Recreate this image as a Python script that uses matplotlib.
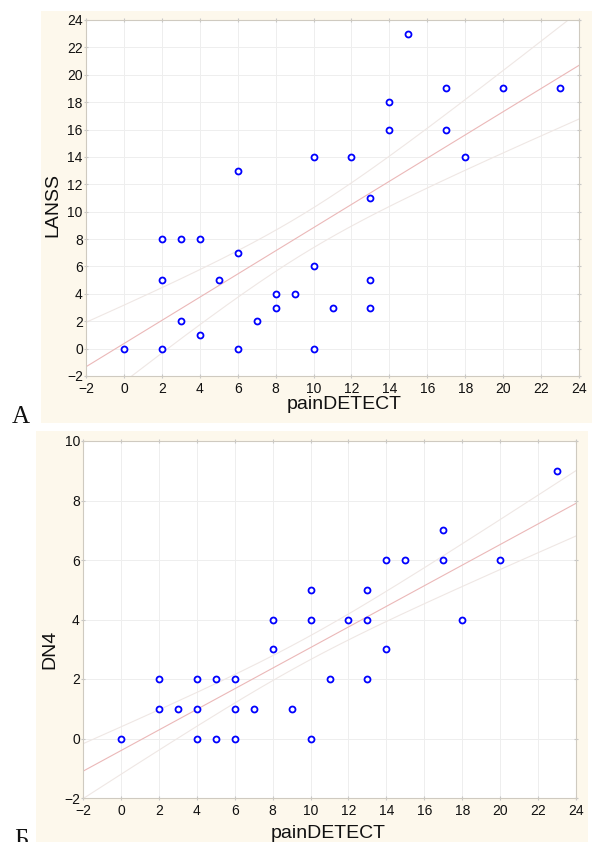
import numpy as np
import matplotlib
matplotlib.use("Agg")
import matplotlib.pyplot as plt
from matplotlib.patches import Rectangle

# ---- data ----
pd_top = [0, 2, 2, 2, 3, 4, 3, 4, 5, 6, 6, 6, 7, 8, 8, 9, 10, 10, 10, 11, 12, 13, 13, 13, 14, 14, 15, 17, 17, 18, 20, 23]
lanss = [0, 0, 5, 8, 8, 8, 2, 1, 5, 7, 13, 0, 2, 3, 4, 4, 14, 6, 0, 3, 14, 11, 5, 3, 18, 16, 23, 19, 16, 14, 19, 19]

pd_bot = [0, 2, 2, 3, 4, 4, 4, 5, 5, 6, 6, 6, 7, 8, 8, 9, 10, 10, 10, 11, 12, 13, 13, 13, 14, 14, 15, 17, 17, 18, 20, 23]
dn4 = [0, 2, 1, 1, 2, 1, 0, 2, 0, 2, 1, 0, 1, 4, 3, 1, 5, 4, 0, 2, 4, 5, 4, 2, 6, 3, 6, 7, 6, 4, 6, 9]

x_ticks = list(range(-2, 25, 2))
y_ticks_top = list(range(-2, 25, 2))
y_ticks_bot = list(range(-2, 11, 2))

cream = "#fdf8ec"

fig = plt.figure(figsize=(5.92, 8.42), dpi=100)
fig.add_artist(Rectangle((41/592, 1-423/842), (592-41)/592, (423-11)/842,
                         transform=fig.transFigure, facecolor=cream, edgecolor="none", zorder=-10))
fig.add_artist(Rectangle((36/592, 0), (588-36)/592, (842-431)/842,
                         transform=fig.transFigure, facecolor=cream, edgecolor="none", zorder=-10))


def panel(rect, x, y, yticks, ylabel, xlabel_pos, ylabel_pos):
    ax = fig.add_axes(rect)
    x = np.asarray(x, float)
    y = np.asarray(y, float)
    ax.set_xlim(-2, 24)
    ax.set_ylim(yticks[0], yticks[-1])
    ax.set_xticks(x_ticks)
    ax.set_yticks(yticks)
    ax.grid(True, color="#eeeeee", lw=0.7)
    ax.set_axisbelow(True)
    # regression with confidence band
    b, a = np.polyfit(x, y, 1)
    n = len(x)
    xx = np.linspace(-2, 24, 200)
    yy = a + b * xx
    resid = y - (a + b * x)
    s = np.sqrt(np.sum(resid**2) / (n - 2))
    sxx = np.sum((x - x.mean())**2)
    t = 1.697
    hw = t * s * np.sqrt(1/n + (xx - x.mean())**2 / sxx)
    ax.plot(xx, yy, color="#ebb8b8", lw=0.8, zorder=2)
    ax.plot(xx, yy + hw, color="#efe7e4", lw=0.8, zorder=2)
    ax.plot(xx, yy - hw, color="#efe7e4", lw=0.8, zorder=2)
    ax.plot(x, y, linestyle="none", marker="o", markersize=4.3, markerfacecolor="white",
            markeredgecolor="#0000ff", markeredgewidth=1.3, zorder=3)
    for sp in ax.spines.values():
        sp.set_color("#cfcac0")
        sp.set_linewidth(0.8)
    ax.tick_params(axis="both", which="both", direction="inout", length=2.5, color="#c8c8c8",
                   labelsize=10, labelcolor="#111111", top=True, right=True)
    ax.tick_params(axis="y", pad=1)
    ax.tick_params(axis="x", pad=3)
    for lbl in ax.get_xticklabels() + ax.get_yticklabels():
        lbl.set_fontfamily("Liberation Sans")
    ax.set_xlabel("painDETECT", fontsize=14, family="Liberation Sans", color="#111111")
    ax.set_ylabel(ylabel, fontsize=14, family="Liberation Sans", color="#111111")
    ax.xaxis.set_label_coords(*xlabel_pos)
    ax.yaxis.set_label_coords(*ylabel_pos)
    return ax


panel([86/592, 1-376/842, (579-86)/592, (376-20)/842], pd_top, lanss, y_ticks_top, "LANSS",
      (0.523, -0.055), (-0.05, 0.48))
panel([83/592, 1-798/842, (576-83)/592, (798-441)/842], pd_bot, dn4, y_ticks_bot, "DN4",
      (0.497, -0.075), (-0.05, 0.415))

fig.text(12/592, 1-423/842, "А", fontsize=18, family="Liberation Serif", color="#111111", va="baseline")
fig.text(14/592, 1-846/842, "Б", fontsize=18, family="Liberation Serif", color="#111111", va="baseline")

fig.savefig("out.png", dpi=100)
